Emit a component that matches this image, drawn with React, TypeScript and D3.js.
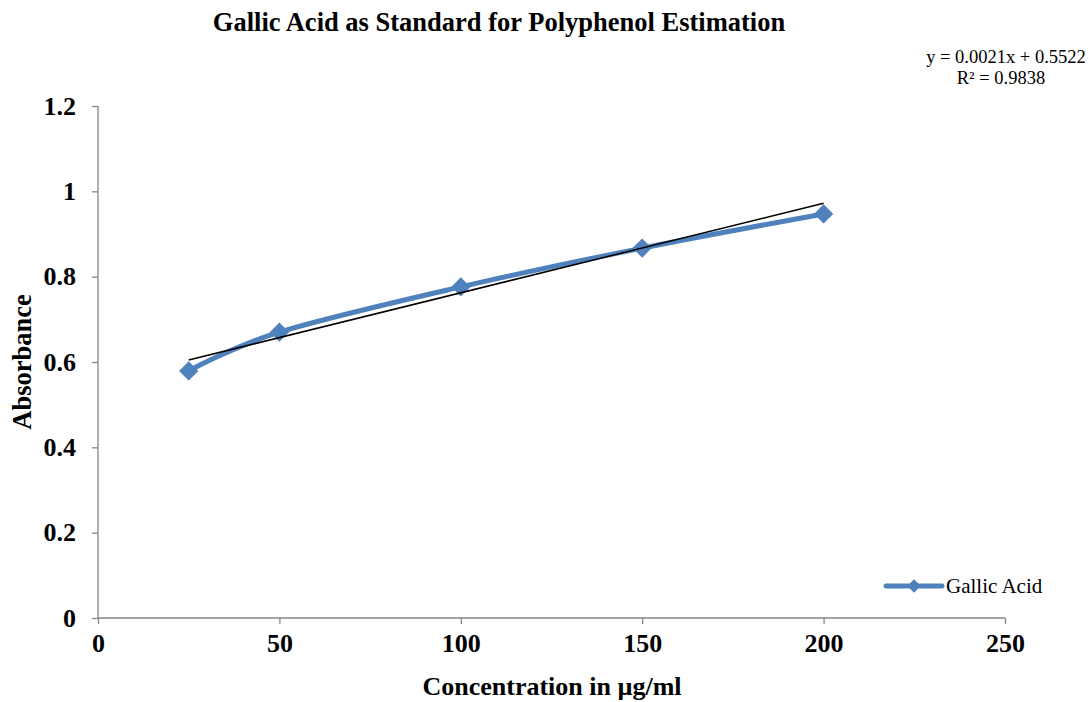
import { useEffect, useRef } from "react";
import * as d3 from "d3";

const WIDTH = 1090;
const HEIGHT = 702;
const MARGIN = { top: 106, left: 98 };

const concentrations = [25, 50, 100, 150, 200];
const absorbance = [0.579, 0.67, 0.776, 0.867, 0.947];
const xTicks = [0, 50, 100, 150, 200, 250];
const yTicks = [0, 0.2, 0.4, 0.6, 0.8, 1, 1.2];
const slope = 0.0021;
const intercept = 0.5522;
const rSquared = 0.9838;

const BLUE = "#4F81BD";
const AXIS = "#868686";
const FONT = "'Liberation Serif', 'Times New Roman', serif";

export default function App() {
  const svgRef = useRef<SVGSVGElement>(null);

  useEffect(() => {
    const svgElement = svgRef.current;
    if (!svgElement) return;

    const svg = d3.select(svgElement);
    svg.selectAll("*").remove();

    const x = d3.scaleLinear().domain([0, 250]).range([MARGIN.left, MARGIN.left + 907]);
    const y = d3.scaleLinear().domain([0, 1.2]).range([MARGIN.top + 512, MARGIN.top]);

    svg
      .append("text")
      .attr("x", 499)
      .attr("y", 31)
      .attr("text-anchor", "middle")
      .attr("font-family", FONT)
      .attr("font-weight", "bold")
      .attr("font-size", 26.5)
      .text("Gallic Acid as Standard for Polyphenol Estimation");

    // axes
    const xAxis = svg
      .append("g")
      .attr("transform", `translate(0,${y(0)})`)
      .call(d3.axisBottom(x).tickValues(xTicks).tickSize(6).tickPadding(10).tickFormat(d3.format("d")));
    const yAxis = svg
      .append("g")
      .attr("transform", `translate(${x(0)},0)`)
      .call(
        d3
          .axisLeft(y)
          .tickValues(yTicks)
          .tickSize(6)
          .tickPadding(16)
          .tickFormat((d) => String(+(+d).toFixed(1)))
      );

    for (const axis of [xAxis, yAxis]) {
      axis.select(".domain").attr("stroke", AXIS).attr("stroke-width", 1.3);
      axis.selectAll(".tick line").attr("stroke", AXIS).attr("stroke-width", 1.3);
      axis
        .selectAll(".tick text")
        .attr("fill", "#000")
        .attr("font-family", FONT)
        .attr("font-weight", "bold")
        .attr("font-size", 26);
    }
    xAxis.select(".domain").attr("d", `M${x(0)},0H${x(250)}`);
    yAxis.select(".domain").attr("d", `M0,${y(0)}V${y(1.2)}`);

    // axis titles
    svg
      .append("text")
      .attr("x", 552)
      .attr("y", 695)
      .attr("text-anchor", "middle")
      .attr("font-family", FONT)
      .attr("font-weight", "bold")
      .attr("font-size", 26)
      .text("Concentration in µg/ml");

    svg
      .append("text")
      .attr("transform", `translate(31,362) rotate(-90)`)
      .attr("text-anchor", "middle")
      .attr("font-family", FONT)
      .attr("font-weight", "bold")
      .attr("font-size", 26.5)
      .text("Absorbance");

    const points = concentrations.map((c, i) => ({ c, a: absorbance[i] }));

    const line = d3
      .line<{ c: number; a: number }>()
      .x((d) => x(d.c))
      .y((d) => y(d.a))
      .curve(d3.curveCardinal.tension(0));

    svg
      .append("path")
      .datum(points)
      .attr("d", line)
      .attr("fill", "none")
      .attr("stroke", BLUE)
      .attr("stroke-width", 5)
      .attr("stroke-linejoin", "round");

    const diamond = d3.symbol().type(d3.symbolSquare).size(160);
    svg
      .selectAll("path.marker")
      .data(points)
      .join("path")
      .attr("class", "marker")
      .attr("d", diamond)
      .attr("transform", (d) => `translate(${x(d.c)},${y(d.a)}) rotate(45)`)
      .attr("fill", BLUE)
      .attr("stroke", BLUE)
      .attr("stroke-width", 1);

    // linear trendline
    const xMin = d3.min(concentrations) ?? 0;
    const xMax = d3.max(concentrations) ?? 0;
    svg
      .append("line")
      .attr("x1", x(xMin))
      .attr("y1", y(slope * xMin + intercept))
      .attr("x2", x(xMax))
      .attr("y2", y(slope * xMax + intercept))
      .attr("stroke", "#000")
      .attr("stroke-width", 1.5);

    // equation label
    const eq = svg
      .append("text")
      .attr("text-anchor", "middle")
      .attr("font-family", FONT)
      .attr("font-size", 18.5);
    eq.append("tspan").attr("x", 1006).attr("y", 63).text(`y = ${slope}x + ${intercept}`);
    eq.append("tspan").attr("x", 1001).attr("y", 84).text(`R² = ${rSquared}`);

    // legend
    const legend = svg.append("g").attr("transform", "translate(886,586)");
    legend
      .append("line")
      .attr("x1", 0)
      .attr("x2", 56)
      .attr("stroke", BLUE)
      .attr("stroke-width", 5)
      .attr("stroke-linecap", "round");
    legend
      .append("path")
      .attr("d", d3.symbol().type(d3.symbolSquare).size(90))
      .attr("transform", "translate(28,0) rotate(45)")
      .attr("fill", BLUE);
    legend
      .append("text")
      .attr("x", 60)
      .attr("y", 7)
      .attr("font-family", FONT)
      .attr("font-size", 21)
      .text("Gallic Acid");
  }, []);

  return (
    <div style={{ position: "fixed", left: 0, top: 0, background: "#fff" }}>
      <svg ref={svgRef} width={WIDTH} height={HEIGHT} role="img" aria-label="Gallic acid standard curve" />
    </div>
  );
}
